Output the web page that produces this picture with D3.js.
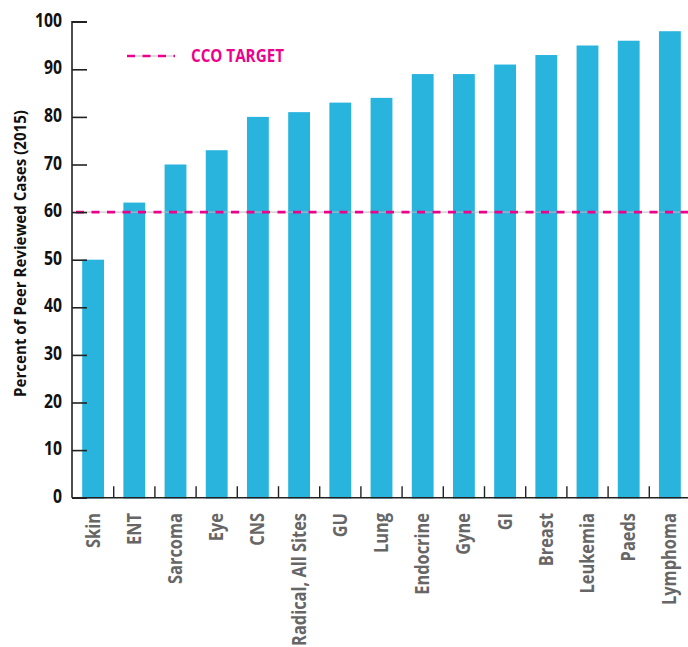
<!DOCTYPE html>
<html><head><meta charset="utf-8">
<script src="https://cdn.jsdelivr.net/npm/d3@7"></script>
<style>
body{margin:0;background:#fff;}
text{font-family:"Open Sans","Noto Sans",sans-serif;font-weight:700;}
</style></head>
<body><svg id="c" width="688" height="647"></svg>
<script>
const categories=["Skin","ENT","Sarcoma","Eye","CNS","Radical, All Sites","GU","Lung","Endocrine","Gyne","GI","Breast","Leukemia","Paeds","Lymphoma"];
const values=[50,62,70,73,80,81,83,84,89,89,91,93,95,96,98];
const target=60;
const yTicks=[0,10,20,30,40,50,60,70,80,90,100];
const yTitle="Percent of Peer Reviewed Cases  (2015)";
const legendLabel="CCO TARGET";

const svg=d3.select("#c");
const x=d3.scaleBand().domain(categories).range([72.5,690.5]).paddingInner(0.47).paddingOuter(0.235);
const xb=d3.scaleBand().domain(categories).range([72.5,690.5]).padding(0);
const y=d3.scaleLinear().domain([0,100]).range([497.7,21.7]);
const blue="#29b4de", mag="#ec008c";

// measure helper for condensed look
function measure(txt,size){
  const t=svg.append("text").attr("font-size",size).text(txt);
  const w=t.node().getComputedTextLength(); t.remove(); return w;
}
const xlSize=19, ytSize=19.5, ttlSize=15.5, lgSize=18;
const sxL=133/measure("Radical, All Sites",xlSize);
const sxT=27/measure("100",ytSize);
const sxTitle=287/measure(yTitle,ttlSize);
const sxLg=93/measure(legendLabel,lgSize);

svg.selectAll("rect.bar").data(values).join("rect")
  .attr("x",(d,i)=>x(categories[i])).attr("width",x.bandwidth())
  .attr("y",d=>y(d)).attr("height",d=>y(0)-y(d)+0.8).attr("fill",blue);

// target line
svg.append("line").attr("x1",72).attr("x2",688).attr("y1",y(target)).attr("y2",y(target)).attr("stroke","#bbb").attr("stroke-width",1);
svg.append("line").attr("x1",76).attr("x2",688).attr("y1",y(target)).attr("y2",y(target)).attr("stroke",mag).attr("stroke-width",2.6).attr("stroke-dasharray","8,7.5");

// y axis
const ya=svg.append("g").attr("transform","translate(72,0)").call(d3.axisRight(y).tickValues(yTicks).tickSize(15).tickFormat(""));
ya.select(".domain").attr("d",`M15,${y(100)}H0V${y(0)}`).attr("stroke","#222").attr("stroke-width",1.6);
ya.selectAll(".tick line").attr("stroke","#222").attr("stroke-width",1.6);
svg.selectAll("text.yl").data(yTicks).join("text").attr("class","yl")
  .attr("transform",d=>`translate(62,${y(d)+5}) scale(${sxT},1)`).attr("text-anchor","end")
  .attr("font-size",ytSize).attr("fill","#111").text(d=>d);

// x axis
svg.append("line").attr("x1",72).attr("x2",688).attr("y1",y(0)).attr("y2",y(0)).attr("stroke","#222").attr("stroke-width",1.6);
svg.selectAll("line.xt").data(categories.slice(1)).join("line").attr("class","xt")
  .attr("x1",d=>xb(d)).attr("x2",d=>xb(d)).attr("y1",y(0)-11.5).attr("y2",y(0)).attr("stroke","#222").attr("stroke-width",1.4);
svg.selectAll("text.xl").data(categories).join("text").attr("class","xl")
  .attr("transform",d=>`translate(${x(d)+x.bandwidth()/2+6.5},513) rotate(-90) scale(${sxL},1)`)
  .attr("text-anchor","end").attr("font-size",xlSize).attr("fill","#666").text(d=>d);

// y title
svg.append("text").attr("transform",`translate(26,253.5) rotate(-90) scale(${sxTitle},1)`)
  .attr("text-anchor","middle").attr("font-size",ttlSize).attr("fill","#111").text(yTitle);

// legend
svg.append("line").attr("x1",127).attr("x2",175).attr("y1",56).attr("y2",56).attr("stroke","#bbb").attr("stroke-width",1);
svg.append("line").attr("x1",127).attr("x2",175).attr("y1",56).attr("y2",56).attr("stroke",mag).attr("stroke-width",2.6).attr("stroke-dasharray","8,7.5");
svg.append("text").attr("transform",`translate(191,62) scale(${sxLg},1)`).attr("font-size",lgSize).attr("fill",mag).text(legendLabel);
</script></body></html>
